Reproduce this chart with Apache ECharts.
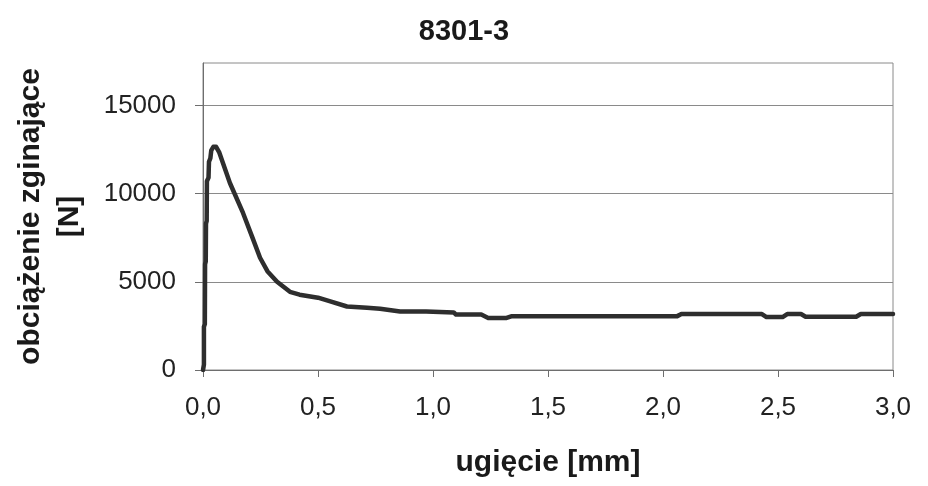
<!DOCTYPE html>
<html>
<head>
<meta charset="utf-8">
<script src="https://cdn.jsdelivr.net/npm/echarts@6/dist/echarts.min.js"></script>
<style>
html,body{margin:0;padding:0;background:#fff;}
#chart{width:928px;height:486px;}
</style>
</head>
<body>
<div id="chart"></div>
<script>
// ugięcie [mm]
var deflection = [0, 0.004, 0.004, 0.008, 0.009, 0.012, 0.013, 0.016, 0.017, 0.024, 0.026, 0.032, 0.036, 0.045, 0.057,
    0.07, 0.117, 0.174, 0.215, 0.248, 0.28, 0.322, 0.378, 0.42, 0.5, 0.55, 0.626, 0.713, 0.77, 0.857,
    0.97, 0.975, 1.09, 1.1, 1.21, 1.24, 1.32, 1.34, 2.06, 2.08, 2.43, 2.45, 2.52, 2.54, 2.6, 2.62, 2.84, 2.86, 3.0];
// obciążenie [N]
var load = [0, 300, 2450, 2600, 6000, 6150, 8300, 8450, 10700, 10900, 11800, 12000, 12450, 12650, 12650,
    12350, 10600, 8900, 7500, 6360, 5600, 5000, 4430, 4270, 4100, 3900, 3600, 3530, 3470, 3320,
    3320, 3265, 3265, 3140, 3140, 2950, 2950, 3040, 3040, 3170, 3170, 3000, 3000, 3170, 3170, 3020, 3020, 3170, 3170];
var yTicks = [0, 5000, 10000, 15000];

var points = [];
for (var i = 0; i < deflection.length; i++) {
    points.push([deflection[i], load[i]]);
}

var font = '"Liberation Sans", Arial, sans-serif';
var myChart = echarts.init(document.getElementById('chart'));
var option = {
    backgroundColor: '#fff',
    animation: false,
    title: {
        text: '8301-3',
        left: 'center',
        top: 12,
        textStyle: {fontFamily: font, fontSize: 29, fontWeight: 'bold', color: '#1a1a1a'}
    },
    grid: {
        left: 203, right: 35, top: 63, bottom: 116,
        show: true, borderColor: '#8a8a8a', borderWidth: 1
    },
    xAxis: {
        type: 'value',
        min: 0, max: 3, interval: 0.5,
        name: 'ugięcie [mm]',
        nameLocation: 'middle',
        nameGap: 78,
        nameTextStyle: {fontFamily: font, fontSize: 30, fontWeight: 'bold', color: '#1a1a1a'},
        axisLine: {lineStyle: {color: '#6e6e6e', width: 1}},
        axisTick: {show: true, inside: false, length: 7, lineStyle: {color: '#6e6e6e'}},
        axisLabel: {
            margin: 25,
            fontFamily: font, fontSize: 26, color: '#222',
            formatter: function (v) { return v.toFixed(1).replace('.', ','); }
        },
        splitLine: {show: false}
    },
    yAxis: {
        type: 'value',
        min: 0, max: 17400,
        name: 'obciążenie zginające\n[N]',
        nameLocation: 'middle',
        nameGap: 114,
        nameTextStyle: {fontFamily: font, fontSize: 30, fontWeight: 'bold', color: '#1a1a1a', lineHeight: 39, align: 'center'},
        axisLine: {show: true, lineStyle: {color: '#6e6e6e', width: 1}},
        axisTick: {show: true, inside: false, length: 8, customValues: yTicks, lineStyle: {color: '#6e6e6e', width: 1}},
        axisLabel: {
            margin: 27, customValues: yTicks, fontFamily: font, fontSize: 26, color: '#222',
            formatter: function (v) { return String(v); }
        },
        splitLine: {show: true, lineStyle: {color: '#8a8a8a', width: 1}}
    },
    series: [{
        type: 'line',
        data: points,
        showSymbol: false,
        lineStyle: {color: '#2e2e2e', width: 4.5, join: 'round', cap: 'round'}
    }]
};
myChart.setOption(option);
</script>
</body>
</html>
